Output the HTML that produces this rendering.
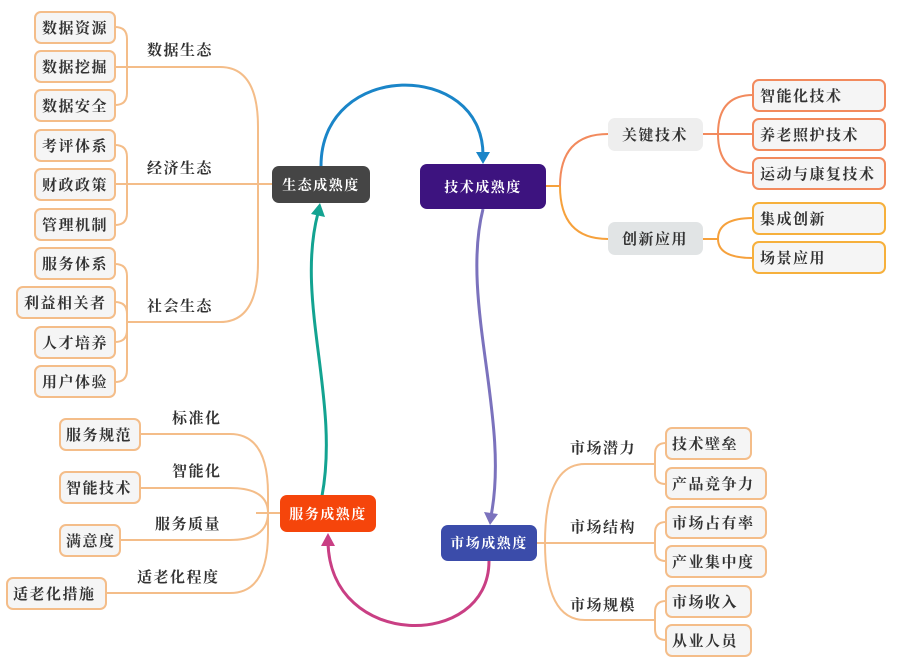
<!DOCTYPE html>
<html><head><meta charset="utf-8"><style>
html,body{margin:0;padding:0;background:#fff;width:900px;height:667px;overflow:hidden}
text{font-family:"Liberation Serif","Noto Serif CJK SC",serif;font-weight:bold;font-size:15px;fill:#333;letter-spacing:1.5px}
.w{fill:#fff;font-size:14px}
</style></head><body>
<svg width="900" height="667" viewBox="0 0 900 667" xmlns="http://www.w3.org/2000/svg">
<defs>
<marker id="mb" markerWidth="8" markerHeight="8" refX="4" refY="6" orient="auto" markerUnits="userSpaceOnUse"><path d="M0,0 L8,0 L4,8z" fill="#1a85c8"/></marker>
</defs>
<g fill="none" stroke-width="2" stroke="#f4bd89">
<!-- left top bracket lines -->
<path d="M115,27 q12,0 12,12 v54 q0,12 -12,12"/>
<path d="M115,67 H220 q38,0 38,60 v57"/>
<path d="M115,145 q12,0 12,12 v56 q0,12 -12,12"/>
<path d="M115,184 H272"/>
<path d="M115,264 q12,0 12,12 v94 q0,12 -12,12"/>
<path d="M115,302 q12,0 12,12"/>
<path d="M115,342 q12,0 12,-12"/>
<path d="M127,322 H220 q38,0 38,-60 v-78"/>
<!-- bottom left -->
<path d="M140,434 H230 q38,0 38,60 v19"/>
<path d="M140,488 H230 q38,0 38,25"/>
<path d="M120,540 H230 q38,0 38,-27"/>
<path d="M106,593 H230 q38,0 38,-60 v-20"/>
<path d="M256,513 H280"/>
<!-- market -->
<path d="M537,543 H545"/>
<path d="M545,543 q0,-79 40,-79 H655"/>
<path d="M545,543 H655"/>
<path d="M545,543 q0,77 40,77 H655"/>
<path d="M666,443 q-11,0 -11,11 v20 q0,10 11,10"/>
<path d="M666,522 q-11,0 -11,11 v17 q0,11 11,11"/>
<path d="M666,601 q-11,0 -11,11 v17 q0,11 11,11"/>
</g>
<g fill="none" stroke-width="2">
<path d="M546,186 H560" stroke="#f6a13c"/>
<path d="M560,186 q0,-52 48,-52" stroke="#f28a5d"/>
<path d="M560,186 q0,53 48,53" stroke="#f6a13c"/>
<path d="M703,134 H718" stroke="#f28a5d"/>
<path d="M753,95 q-35,0 -35,39 q0,39 35,39 M718,134 H753" stroke="#f28a5d"/>
<path d="M703,239 H718" stroke="#f6a13c"/>
<path d="M753,218 q-35,0 -35,21 q0,19 35,19" stroke="#f6a13c"/>
</g>
<!-- flow arrows -->
<g fill="none" stroke-width="3">
<path d="M321,166 C321,60 483,60 483,155" stroke="#1a85c8"/>
<path d="M483,209 C460,300 510,420 491,516" stroke="#7b72bd"/>
<path d="M489,561 C489,650 330,650 328,542" stroke="#c93f84"/>
<path d="M322,496 C340,400 295,300 318,213" stroke="#13a391"/>
</g>
<path d="M476,152 L490,152 L483,164z" fill="#1a85c8"/>
<path d="M484,512 L498,514 L490,525z" fill="#7b72bd"/>
<path d="M321,546 L335,546 L328,533z" fill="#c93f84"/>
<path d="M311,214 L325,217 L320,203z" fill="#13a391"/>
<!-- center nodes -->
<rect x="272" y="166" width="98" height="37" rx="7" fill="#454545"/>
<text class="w" x="321" y="190" text-anchor="middle">生态成熟度</text>
<rect x="420" y="164" width="126" height="45" rx="7" fill="#3d137f"/>
<text class="w" x="483" y="192" text-anchor="middle">技术成熟度</text>
<rect x="280" y="495" width="96" height="37" rx="7" fill="#f5450b"/>
<text class="w" x="328" y="519" text-anchor="middle">服务成熟度</text>
<rect x="441" y="525" width="96" height="36" rx="7" fill="#3b4caa"/>
<text class="w" x="489" y="548" text-anchor="middle">市场成熟度</text>
<!-- mid labels -->
<rect x="608" y="118" width="95" height="33" rx="7" fill="#eeeeee"/>
<text x="655" y="140" text-anchor="middle">关键技术</text>
<rect x="608" y="222" width="95" height="33" rx="7" fill="#e1e4e5"/>
<text x="655" y="244" text-anchor="middle">创新应用</text>
<text x="147" y="55">数据生态</text>
<text x="147" y="173">经济生态</text>
<text x="147" y="311">社会生态</text>
<text x="172" y="423">标准化</text>
<text x="172" y="476">智能化</text>
<text x="155" y="529">服务质量</text>
<text x="137" y="582">适老化程度</text>
<text x="570" y="453">市场潜力</text>
<text x="570" y="532">市场结构</text>
<text x="570" y="610">市场规模</text>
<!-- leaves -->
<g fill="#f5f5f5" stroke="#f4bd89" stroke-width="2">
<rect x="35" y="12" width="80" height="31" rx="6"/>
<rect x="35" y="51" width="80" height="31" rx="6"/>
<rect x="35" y="90" width="80" height="31" rx="6"/>
<rect x="35" y="130" width="80" height="31" rx="6"/>
<rect x="35" y="169" width="80" height="31" rx="6"/>
<rect x="35" y="209" width="80" height="31" rx="6"/>
<rect x="35" y="248" width="80" height="31" rx="6"/>
<rect x="17" y="287" width="98" height="31" rx="6"/>
<rect x="35" y="327" width="80" height="31" rx="6"/>
<rect x="35" y="366" width="80" height="31" rx="6"/>
<rect x="60" y="419" width="80" height="31" rx="6"/>
<rect x="60" y="472" width="80" height="31" rx="6"/>
<rect x="60" y="525" width="60" height="31" rx="6"/>
<rect x="7" y="578" width="99" height="31" rx="6"/>
<rect x="666" y="428" width="85" height="31" rx="6"/>
<rect x="666" y="468" width="100" height="31" rx="6"/>
<rect x="666" y="507" width="100" height="31" rx="6"/>
<rect x="666" y="546" width="100" height="31" rx="6"/>
<rect x="666" y="586" width="85" height="31" rx="6"/>
<rect x="666" y="625" width="85" height="31" rx="6"/>
</g>
<g fill="#f5f5f5" stroke-width="2">
<rect x="753" y="80" width="132" height="31" rx="6" stroke="#f28a5d"/>
<rect x="753" y="119" width="132" height="31" rx="6" stroke="#f28a5d"/>
<rect x="753" y="158" width="132" height="31" rx="6" stroke="#f28a5d"/>
<rect x="753" y="203" width="132" height="31" rx="6" stroke="#f6b03c"/>
<rect x="753" y="242" width="132" height="31" rx="6" stroke="#f6b03c"/>
</g>
<text x="42" y="33">数据资源</text>
<text x="42" y="72">数据挖掘</text>
<text x="42" y="111">数据安全</text>
<text x="42" y="151">考评体系</text>
<text x="42" y="190">财政政策</text>
<text x="42" y="230">管理机制</text>
<text x="42" y="269">服务体系</text>
<text x="24" y="308">利益相关者</text>
<text x="42" y="348">人才培养</text>
<text x="42" y="387">用户体验</text>
<text x="66" y="440">服务规范</text>
<text x="66" y="493">智能技术</text>
<text x="66" y="546">满意度</text>
<text x="13" y="599">适老化措施</text>
<text x="672" y="449">技术壁垒</text>
<text x="672" y="489">产品竞争力</text>
<text x="672" y="528">市场占有率</text>
<text x="672" y="567">产业集中度</text>
<text x="672" y="607">市场收入</text>
<text x="672" y="646">从业人员</text>
<text x="760" y="101">智能化技术</text>
<text x="760" y="140">养老照护技术</text>
<text x="760" y="179">运动与康复技术</text>
<text x="760" y="224">集成创新</text>
<text x="760" y="263">场景应用</text>
</svg>
</body></html>
